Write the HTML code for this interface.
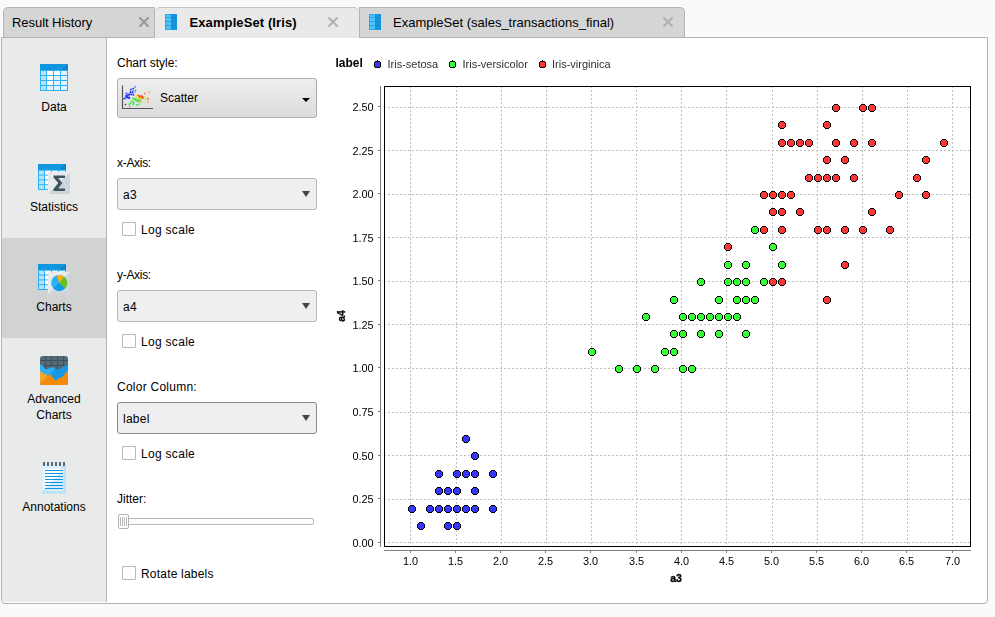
<!DOCTYPE html>
<html><head><meta charset="utf-8">
<style>
*{box-sizing:border-box;margin:0;padding:0}
html,body{width:995px;height:617px;overflow:hidden;background:#fafafa;font-family:"Liberation Sans",sans-serif;font-size:12px;color:#000}
.abs{position:absolute}
.tab{position:absolute;top:7px;height:31px;background:#d5d5d5;border:1px solid #b4b4b4;border-bottom:none;border-radius:5px 5px 0 0;font-size:13px;line-height:30px;white-space:nowrap;box-shadow:0 -1px 0 #fff}
.tab.active{background:#e9e9e9;font-weight:bold}
.tab .x{position:absolute;top:9px;width:11px;height:11px}
.panel{position:absolute;left:1px;top:37px;width:987px;height:567px;background:#fff;border:1px solid #b4b4b4;border-radius:0 0 4px 4px}
.side{position:absolute;left:2px;top:38px;width:105px;height:564px;background:#e9ebea;border-right:1px solid #b4b4b4}
.sel{position:absolute;left:2px;top:238px;width:104px;height:100px;background:#d1d3d2}
.slabel{position:absolute;left:2px;width:104px;text-align:center;font-size:12px;line-height:16px;letter-spacing:0}
.lbl{position:absolute;left:117px;font-size:12px;line-height:14px;white-space:nowrap}
.combo{position:absolute;left:117px;width:200px;height:32px;border:1px solid #b8b8b8;border-radius:3px;background:#efefef;font-size:12px;line-height:30px;padding-left:5px}
.combo span{position:relative;top:1px;letter-spacing:.25px}
.combo.focus{border-color:#8a8a8a}
.combo:after{content:"";position:absolute;right:6px;top:12px;border-left:4px solid transparent;border-right:4px solid transparent;border-top:6px solid #444}
.btn{position:absolute;left:117px;top:78px;width:200px;height:40px;border:1px solid #adadad;border-radius:3px;background:linear-gradient(#eeeeee,#dbdbdb);font-size:12px;line-height:38px}
.cb{position:absolute;left:122px;width:14px;height:14px;border:1px solid #b8b8b8;background:#fff;border-radius:1px}
.cbl{position:absolute;left:141px;font-size:12px;line-height:16px;white-space:nowrap;letter-spacing:.2px}
.chart{position:absolute;left:0;top:0;will-change:transform}
.ico{position:absolute;overflow:visible}
</style></head><body>
<div class="tab" style="left:3px;width:152px;padding-left:8px;border-radius:5px 0 0 0"><span style="letter-spacing:-.05px">Result History</span></div>
<div class="tab" style="left:359px;width:326px;padding-left:33px;border-radius:0 5px 0 0">ExampleSet (sales_transactions_final)</div>
<div class="panel"></div>
<div class="tab active" style="left:155px;width:204px;padding-left:34.5px;height:31px;border-left:none;border-right:none;border-top-color:#c2c2c2"><span style="letter-spacing:.1px">ExampleSet (Iris)</span></div>
<svg class="ico" style="left:138.9px;top:17px" width="10" height="10" viewBox="0 0 10 10"><path d="M1 1L9 9M9 1L1 9" stroke="#999" stroke-width="2.1" stroke-linecap="round"/></svg>
<svg class="ico" style="left:328px;top:16.9px" width="10" height="10" viewBox="0 0 10 10"><path d="M1 1L9 9M9 1L1 9" stroke="#b2b2b2" stroke-width="2.1" stroke-linecap="round"/></svg>
<svg class="ico" style="left:663px;top:17px" width="10" height="10" viewBox="0 0 10 10"><path d="M1 1L9 9M9 1L1 9" stroke="#b2b2b2" stroke-width="2.1" stroke-linecap="round"/></svg>
<!-- tab icons -->
<svg class="ico" style="left:165px;top:14px" width="12" height="16" viewBox="0 0 12 16"><rect width="6" height="16" fill="#4fc3f7"/><rect x="6" width="6" height="16" fill="#1296e0"/><path d="M0 3.5H6M0 7.5H6M0 11.5H6" stroke="#2ba4e6"/><path d="M6 3.5H12M6 7.5H12M6 11.5H12" stroke="#1a86c8"/><rect x=".5" y=".5" width="11" height="15" fill="none" stroke="#1296e0" stroke-opacity=".6"/></svg>
<svg class="ico" style="left:369px;top:14px" width="12" height="16" viewBox="0 0 12 16"><rect width="6" height="16" fill="#4fc3f7"/><rect x="6" width="6" height="16" fill="#1296e0"/><path d="M0 3.5H6M0 7.5H6M0 11.5H6" stroke="#2ba4e6"/><path d="M6 3.5H12M6 7.5H12M6 11.5H12" stroke="#1a86c8"/><rect x=".5" y=".5" width="11" height="15" fill="none" stroke="#1296e0" stroke-opacity=".6"/></svg>

<div class="side"></div>
<div class="sel"></div>
<!-- sidebar icons -->
<svg width="0" height="0" style="position:absolute"><defs>
<g id="tbl"><rect width="28" height="27" fill="#2fb0f0"/><rect width="28" height="6" fill="#1296e0"/><path d="M21 6L28 0V6Z" fill="#0d84cc"/>
<g fill="#b5e2fb"><rect x="1" y="7" width="5" height="4"/><rect x="1" y="12" width="5" height="4"/><rect x="1" y="17" width="5" height="4"/><rect x="1" y="22" width="5" height="4"/></g>
<g fill="#fff"><rect x="7" y="7" width="6" height="4"/><rect x="14" y="7" width="6" height="4"/><rect x="7" y="12" width="6" height="4"/><rect x="7" y="17" width="6" height="4"/></g>
<g fill="#e0f3fe"><rect x="21" y="7" width="6" height="4"/><rect x="14" y="12" width="6" height="4"/><rect x="21" y="12" width="6" height="4"/><rect x="14" y="17" width="6" height="4"/><rect x="21" y="17" width="6" height="4"/><rect x="7" y="22" width="6" height="4"/><rect x="14" y="22" width="6" height="4"/><rect x="21" y="22" width="6" height="4"/></g></g>
<g id="sq"><rect width="22" height="22" fill="#cfd6d9"/><path d="M0 0H22L0 22Z" fill="#e8eaeb"/></g>
</defs></svg>
<svg class="ico" style="left:40px;top:64px" width="28" height="27"><use href="#tbl"/></svg>
<svg class="ico" style="left:38px;top:164px" width="32" height="30"><g transform="scale(1,.963)"><use href="#tbl"/></g><use href="#sq" x="10" y="8"/><path d="M15.5 11.5H27V14H20.2L24.3 19L20.2 24.5H27V27H15.5V25L20.3 19L15.5 13.5Z" fill="#3d5561"/></svg>
<svg class="ico" style="left:38px;top:264px" width="32" height="30"><g transform="scale(1,.963)"><use href="#tbl"/></g><use href="#sq" x="10" y="8"/>
<g transform="translate(21.2,18.9)"><circle r="8" fill="#29b0f5"/><path d="M0 0L5.7 5.7A8 8 0 0 1 -5.7 5.7Z" fill="#0d9ae8"/><path d="M0 0L-2.4 -7.6A8 8 0 0 1 5 -6.2Z" fill="#ffb000"/><path d="M0 0L5 -6.2A8 8 0 0 1 5.7 5.7Z" fill="#6abf1e"/></g></svg>
<svg class="ico" style="left:40px;top:356px" width="28" height="29"><defs><clipPath id="rc"><rect width="28" height="29" rx="2.5"/></clipPath></defs><g clip-path="url(#rc)"><rect width="28" height="29" fill="#546a76"/><path d="M5.5 0V20M11.5 0V20M17.5 0V20M23.5 0V20M0 4.5H28M0 9.5H28M0 14.5H28" stroke="#3f525c"/><path d="M0 9L1.5 8.5L3 10.5L4.5 12.5L6 13.5L7.5 13L9 12.5L10.5 12L12 11L13.5 11.5L15 13L16.5 13.5L18 13L19.5 13.5L21 12.5L22.5 11L24 10L25.5 9.5L28 9V29H0Z" fill="#1598e5"/><path d="M0 9L1.5 8.5L3 10.5L4.5 12.5L6 13.5L7.5 13L9 12.5L10.5 12L12 11L13.5 11.5L15 13L10 18L6 22L0 22Z" fill="#2db1f5"/><path d="M0 15L1.5 15.5L3 17.5L4.5 18.5L6 18.5L7.5 20L9 19L10.5 18L12 20L13.5 22.5L15.5 24.5L17 24L18.5 22L20 22.5L21.5 21L23 20.5L24.5 18.5L26 16L28 15V29H0Z" fill="#f28c0a"/><path d="M0 15L1.5 15.5L3 17.5L4.5 18.5L6 18.5L7.5 20L0 28Z" fill="#f6a531"/></g></svg>
<svg class="ico" style="left:42px;top:462px" width="24" height="32"><rect y="3" width="24" height="29" fill="#bde3f9"/><path d="M0 3H21L0 30Z" fill="#def1fc"/><rect x="2.5" y="7" width="19" height="22" fill="#d6ecfb"/><path d="M2.5 7H21.5L2.5 27Z" fill="#fff"/><path d="M3 8.5H21M3 11.5H21M3 14.5H21M3 17.5H21M3 20.5H21M3 23.5H21M3 26.5H21" stroke="#0d95dd"/><g fill="#566a75"><rect x="1" width="2" height="4"/><rect x="5" width="2" height="4"/><rect x="9" width="2" height="4"/><rect x="13" width="2" height="4"/><rect x="17" width="2" height="4"/><rect x="21" width="2" height="4"/></g></svg>

<div class="slabel" style="top:99px">Data</div>
<div class="slabel" style="top:199px">Statistics</div>
<div class="slabel" style="top:299px">Charts</div>
<div class="slabel" style="top:391px">Advanced<br>Charts</div>
<div class="slabel" style="top:499px">Annotations</div>

<div class="lbl" style="top:56px">Chart style:</div>
<div class="btn"><span style="position:absolute;left:42px;top:0px">Scatter</span><span style="position:absolute;right:6px;top:19px;border-left:4.5px solid transparent;border-right:4.5px solid transparent;border-top:4.5px solid #000"></span>
<svg class="ico" style="left:3px;top:6px;filter:blur(.35px)" width="34" height="26" viewBox="0 0 34 26"><path d="M1.5 0.5V23.5H32" fill="none" stroke="#555" stroke-width="1.2"/>
<g fill="#1a2bff"><circle cx="3.5" cy="13.5" r="1.1"/><circle cx="5" cy="11" r="1.1"/><circle cx="6" cy="12.2" r="1.2"/><circle cx="7" cy="10" r="1.1"/><circle cx="8" cy="12.8" r="1.2"/><circle cx="5.5" cy="8.5" r=".9"/><circle cx="8.5" cy="9.3" r="1.1"/><circle cx="9.5" cy="7" r="1"/><circle cx="10.5" cy="9.5" r="1"/><circle cx="11.5" cy="7.5" r="1"/><circle cx="10" cy="4.5" r=".9"/><circle cx="12.3" cy="3.6" r=".9"/><circle cx="12.5" cy="9.8" r=".9"/><circle cx="4.5" cy="19.5" r=".8"/></g>
<g fill="#4a8cff"><circle cx="14" cy="2" r=".9"/><circle cx="12" cy="6" r=".9"/><circle cx="14.5" cy="5.5" r=".9"/><circle cx="14" cy="7.2" r=".7"/></g>
<g fill="#22e83a"><circle cx="12" cy="13.5" r="1"/><circle cx="13.5" cy="14" r="1.1"/><circle cx="15" cy="15" r="1.1"/><circle cx="12.5" cy="17" r="1.1"/><circle cx="12.3" cy="19" r="1"/><circle cx="9.5" cy="18" r=".9"/><circle cx="8.5" cy="19.5" r=".9"/><circle cx="10.5" cy="16" r=".8"/><circle cx="16.5" cy="16" r="1.1"/><circle cx="17.5" cy="14" r="1"/><circle cx="18.5" cy="16.5" r=".9"/><circle cx="16" cy="20" r=".9"/><circle cx="18" cy="19.3" r=".8"/><circle cx="8.5" cy="21.5" r=".7"/><circle cx="20" cy="15.5" r=".8"/></g>
<g fill="#c8ee20"><circle cx="15" cy="12.5" r="1"/><circle cx="16" cy="10.5" r=".8"/><circle cx="18" cy="13" r="1"/><circle cx="20" cy="13.5" r=".9"/><circle cx="18" cy="17.5" r=".8"/><circle cx="20.5" cy="17.5" r=".8"/><circle cx="23.5" cy="12" r=".8"/><circle cx="24.5" cy="14" r=".8"/><circle cx="25" cy="15.5" r=".7"/><circle cx="8.5" cy="17" r=".7"/></g>
<g fill="#ff8a10"><circle cx="14.5" cy="15" r=".9"/><circle cx="19.5" cy="12" r="1"/><circle cx="21" cy="13" r="1"/><circle cx="19" cy="15" r=".8"/><circle cx="27" cy="15" r=".7"/><circle cx="27" cy="17.5" r=".7"/><circle cx="27" cy="7" r=".6"/><circle cx="28.7" cy="7" r=".6"/></g>
<g fill="#ff4a18"><circle cx="17.5" cy="10.5" r="1"/><circle cx="18.5" cy="11.5" r="1"/><circle cx="20.5" cy="11" r="1.1"/><circle cx="21.5" cy="12" r="1.1"/><circle cx="22" cy="13" r=".9"/><circle cx="23.8" cy="8.5" r=".8"/><circle cx="27" cy="13.5" r=".8"/></g>
</svg></div>
<div class="lbl" style="top:156px;letter-spacing:-.3px">x-Axis:</div>
<div class="combo" style="top:178px"><span>a3</span></div>
<div class="cb" style="top:222px"></div><div class="cbl" style="top:222px;letter-spacing:.3px">Log scale</div>
<div class="lbl" style="top:268px;letter-spacing:-.3px">y-Axis:</div>
<div class="combo" style="top:290px"><span>a4</span></div>
<div class="cb" style="top:334px"></div><div class="cbl" style="top:334px;letter-spacing:.3px">Log scale</div>
<div class="lbl" style="top:380px;letter-spacing:.25px">Color Column:</div>
<div class="combo focus" style="top:402px"><span>label</span></div>
<div class="cb" style="top:446px"></div><div class="cbl" style="top:446px;letter-spacing:.3px">Log scale</div>
<div class="lbl" style="top:492px">Jitter:</div>
<div class="abs" style="left:119px;top:518px;width:195px;height:7px;border:1px solid #b9b9b9;border-radius:2px;background:#fcfcfc"></div>
<div class="abs" style="left:118px;top:514px;width:11px;height:15px;border:1px solid #b4b4b4;border-radius:2px;background:#fdfdfd"></div><div class="abs" style="left:120px;top:517px;width:7px;height:9px;background:repeating-linear-gradient(90deg,#b9b9b9 0,#b9b9b9 1px,transparent 1px,transparent 2px)"></div>
<div class="cb" style="top:566px"></div><div class="cbl" style="top:566px">Rotate labels</div>
<svg class="chart" width="995" height="617" viewBox="0 0 995 617" shape-rendering="crispEdges">
<defs><g id="m"><path fill="#000" d="M2 0H6V1H7V2H8V6H7V7H6V8H2V7H1V6H0V2H1V1H2Z"/><path d="M2 1H6V2H7V6H6V7H2V6H1V2H2Z"/></g><g id="lm"><path fill="#000" d="M3 -1H4V0H6V1H7V6H6V7H1V6H0V1H1V0H3Z"/><path d="M1 1H6V6H1Z"/></g></defs>
<g stroke="#c0c0c0" stroke-width="1" stroke-dasharray="2,2"><line x1="410.5" y1="86" x2="410.5" y2="546"/><line x1="456.5" y1="86" x2="456.5" y2="546"/><line x1="501.5" y1="86" x2="501.5" y2="546"/><line x1="546.5" y1="86" x2="546.5" y2="546"/><line x1="591.5" y1="86" x2="591.5" y2="546"/><line x1="636.5" y1="86" x2="636.5" y2="546"/><line x1="681.5" y1="86" x2="681.5" y2="546"/><line x1="726.5" y1="86" x2="726.5" y2="546"/><line x1="772.5" y1="86" x2="772.5" y2="546"/><line x1="817.5" y1="86" x2="817.5" y2="546"/><line x1="862.5" y1="86" x2="862.5" y2="546"/><line x1="907.5" y1="86" x2="907.5" y2="546"/><line x1="952.5" y1="86" x2="952.5" y2="546"/><line x1="384" y1="542.5" x2="970" y2="542.5"/><line x1="384" y1="499.5" x2="970" y2="499.5"/><line x1="384" y1="455.5" x2="970" y2="455.5"/><line x1="384" y1="412.5" x2="970" y2="412.5"/><line x1="384" y1="368.5" x2="970" y2="368.5"/><line x1="384" y1="324.5" x2="970" y2="324.5"/><line x1="384" y1="281.5" x2="970" y2="281.5"/><line x1="384" y1="237.5" x2="970" y2="237.5"/><line x1="384" y1="194.5" x2="970" y2="194.5"/><line x1="384" y1="150.5" x2="970" y2="150.5"/><line x1="384" y1="107.5" x2="970" y2="107.5"/></g>
<g fill="#ff3636"><use href="#m" x="859" y="104"/><use href="#m" x="778" y="208"/><use href="#m" x="850" y="174"/><use href="#m" x="823" y="226"/><use href="#m" x="841" y="156"/><use href="#m" x="913" y="174"/><use href="#m" x="724" y="243"/><use href="#m" x="886" y="226"/><use href="#m" x="841" y="226"/><use href="#m" x="868" y="104"/><use href="#m" x="778" y="191"/><use href="#m" x="796" y="208"/><use href="#m" x="814" y="174"/><use href="#m" x="769" y="191"/><use href="#m" x="778" y="121"/><use href="#m" x="796" y="139"/><use href="#m" x="814" y="226"/><use href="#m" x="922" y="156"/><use href="#m" x="940" y="139"/><use href="#m" x="769" y="278"/><use href="#m" x="832" y="139"/><use href="#m" x="760" y="191"/><use href="#m" x="922" y="191"/><use href="#m" x="760" y="226"/><use href="#m" x="832" y="174"/><use href="#m" x="859" y="226"/><use href="#m" x="751" y="226"/><use href="#m" x="823" y="174"/><use href="#m" x="841" y="261"/><use href="#m" x="868" y="208"/><use href="#m" x="895" y="191"/><use href="#m" x="823" y="156"/><use href="#m" x="778" y="278"/><use href="#m" x="823" y="296"/><use href="#m" x="868" y="139"/><use href="#m" x="823" y="121"/><use href="#m" x="805" y="174"/><use href="#m" x="778" y="139"/><use href="#m" x="850" y="139"/><use href="#m" x="832" y="104"/><use href="#m" x="787" y="139"/><use href="#m" x="769" y="208"/><use href="#m" x="787" y="191"/><use href="#m" x="805" y="139"/><use href="#m" x="778" y="226"/></g>
<g fill="#36ff36"><use href="#m" x="742" y="296"/><use href="#m" x="724" y="278"/><use href="#m" x="760" y="278"/><use href="#m" x="679" y="313"/><use href="#m" x="733" y="278"/><use href="#m" x="724" y="313"/><use href="#m" x="742" y="261"/><use href="#m" x="615" y="365"/><use href="#m" x="733" y="313"/><use href="#m" x="670" y="296"/><use href="#m" x="633" y="365"/><use href="#m" x="697" y="278"/><use href="#m" x="679" y="365"/><use href="#m" x="642" y="313"/><use href="#m" x="715" y="296"/><use href="#m" x="688" y="365"/><use href="#m" x="670" y="348"/><use href="#m" x="751" y="226"/><use href="#m" x="742" y="330"/><use href="#m" x="706" y="313"/><use href="#m" x="751" y="296"/><use href="#m" x="769" y="243"/><use href="#m" x="661" y="348"/><use href="#m" x="651" y="365"/><use href="#m" x="670" y="330"/><use href="#m" x="778" y="261"/><use href="#m" x="724" y="261"/><use href="#m" x="742" y="278"/><use href="#m" x="715" y="313"/><use href="#m" x="688" y="313"/><use href="#m" x="715" y="330"/><use href="#m" x="733" y="296"/><use href="#m" x="679" y="330"/><use href="#m" x="697" y="313"/><use href="#m" x="697" y="330"/><use href="#m" x="588" y="348"/></g>
<g fill="#3636ff"><use href="#m" x="444" y="505"/><use href="#m" x="435" y="505"/><use href="#m" x="453" y="505"/><use href="#m" x="471" y="470"/><use href="#m" x="444" y="487"/><use href="#m" x="453" y="522"/><use href="#m" x="462" y="505"/><use href="#m" x="444" y="522"/><use href="#m" x="417" y="522"/><use href="#m" x="426" y="505"/><use href="#m" x="453" y="470"/><use href="#m" x="435" y="470"/><use href="#m" x="471" y="487"/><use href="#m" x="453" y="487"/><use href="#m" x="471" y="505"/><use href="#m" x="408" y="505"/><use href="#m" x="471" y="452"/><use href="#m" x="489" y="505"/><use href="#m" x="462" y="470"/><use href="#m" x="435" y="487"/><use href="#m" x="462" y="435"/><use href="#m" x="489" y="470"/></g>
<rect x="384.5" y="86.5" width="586" height="460" fill="none" stroke="#000" stroke-width="1"/>
<g stroke="#808080" stroke-width="1"><line x1="380.5" y1="86" x2="380.5" y2="547"/><line x1="384" y1="550.5" x2="971" y2="550.5"/><line x1="410.5" y1="551" x2="410.5" y2="553"/><line x1="455.5" y1="551" x2="455.5" y2="553"/><line x1="500.5" y1="551" x2="500.5" y2="553"/><line x1="545.5" y1="551" x2="545.5" y2="553"/><line x1="590.5" y1="551" x2="590.5" y2="553"/><line x1="636.5" y1="551" x2="636.5" y2="553"/><line x1="681.5" y1="551" x2="681.5" y2="553"/><line x1="726.5" y1="551" x2="726.5" y2="553"/><line x1="771.5" y1="551" x2="771.5" y2="553"/><line x1="816.5" y1="551" x2="816.5" y2="553"/><line x1="861.5" y1="551" x2="861.5" y2="553"/><line x1="906.5" y1="551" x2="906.5" y2="553"/><line x1="952.5" y1="551" x2="952.5" y2="553"/><line x1="378" y1="542.5" x2="380" y2="542.5"/><line x1="378" y1="498.5" x2="380" y2="498.5"/><line x1="378" y1="455.5" x2="380" y2="455.5"/><line x1="378" y1="411.5" x2="380" y2="411.5"/><line x1="378" y1="367.5" x2="380" y2="367.5"/><line x1="378" y1="324.5" x2="380" y2="324.5"/><line x1="378" y1="280.5" x2="380" y2="280.5"/><line x1="378" y1="237.5" x2="380" y2="237.5"/><line x1="378" y1="193.5" x2="380" y2="193.5"/><line x1="378" y1="150.5" x2="380" y2="150.5"/><line x1="378" y1="106.5" x2="380" y2="106.5"/></g>
<g font-size="10.9" fill="#000" font-family="Liberation Sans, sans-serif"><text x="410.5" y="565" text-anchor="middle">1.0</text><text x="455.5" y="565" text-anchor="middle">1.5</text><text x="500.5" y="565" text-anchor="middle">2.0</text><text x="545.5" y="565" text-anchor="middle">2.5</text><text x="590.5" y="565" text-anchor="middle">3.0</text><text x="636.5" y="565" text-anchor="middle">3.5</text><text x="681.5" y="565" text-anchor="middle">4.0</text><text x="726.5" y="565" text-anchor="middle">4.5</text><text x="771.5" y="565" text-anchor="middle">5.0</text><text x="816.5" y="565" text-anchor="middle">5.5</text><text x="861.5" y="565" text-anchor="middle">6.0</text><text x="906.5" y="565" text-anchor="middle">6.5</text><text x="952.5" y="565" text-anchor="middle">7.0</text><text x="373.6" y="547" text-anchor="end">0.00</text><text x="373.6" y="503" text-anchor="end">0.25</text><text x="373.6" y="460" text-anchor="end">0.50</text><text x="373.6" y="416" text-anchor="end">0.75</text><text x="373.6" y="372" text-anchor="end">1.00</text><text x="373.6" y="329" text-anchor="end">1.25</text><text x="373.6" y="285" text-anchor="end">1.50</text><text x="373.6" y="242" text-anchor="end">1.75</text><text x="373.6" y="198" text-anchor="end">2.00</text><text x="373.6" y="155" text-anchor="end">2.25</text><text x="373.6" y="111" text-anchor="end">2.50</text></g>
<text x="676" y="582" text-anchor="middle" font-size="10.5" font-weight="bold" stroke="#000" stroke-width=".3" font-family="Liberation Sans, sans-serif">a3</text>
<text transform="translate(345,316) rotate(-90)" text-anchor="middle" font-size="10.5" font-weight="bold" stroke="#000" stroke-width=".3" font-family="Liberation Sans, sans-serif">a4</text>
<text x="335.5" y="67" font-size="12" font-weight="bold" font-family="Liberation Sans, sans-serif">label</text>
<use href="#lm" x="374" y="61" fill="#3636ff"/>
<text x="387.5" y="68" font-size="11" fill="#303030" font-family="Liberation Sans, sans-serif">Iris-setosa</text>
<use href="#lm" x="449" y="61" fill="#36ff36"/>
<text x="462.5" y="68" font-size="11" fill="#303030" font-family="Liberation Sans, sans-serif">Iris-versicolor</text>
<use href="#lm" x="539" y="61" fill="#ff3636"/>
<text x="552" y="68" font-size="11" fill="#303030" font-family="Liberation Sans, sans-serif">Iris-virginica</text>
</svg>
</body></html>
